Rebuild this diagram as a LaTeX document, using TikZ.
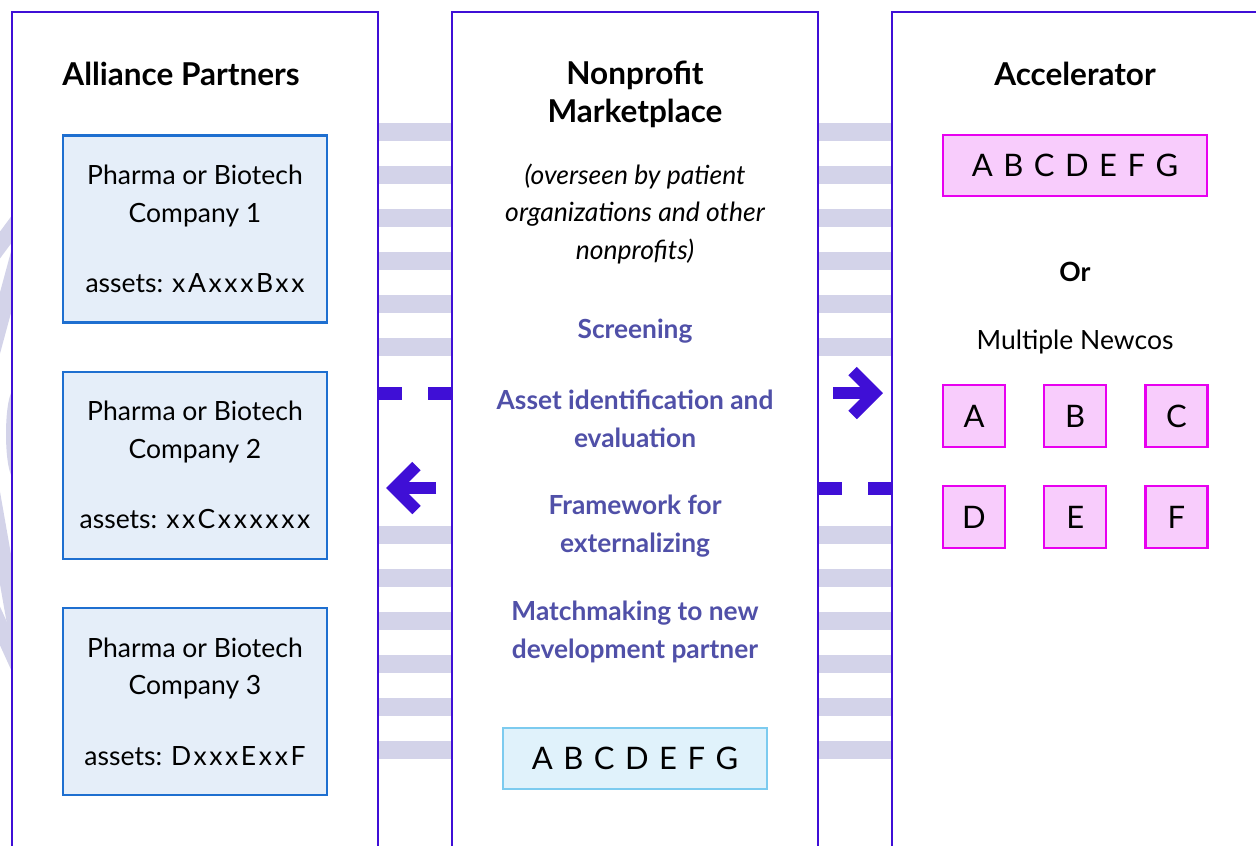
\documentclass[tikz,border=0pt]{standalone}
\usepackage{fontspec}
\setmainfont{Lato}
\usetikzlibrary{positioning}
\definecolor{frameviolet}{HTML}{3F0FD6}
\definecolor{stripegray}{HTML}{D3D3E9}
\definecolor{taskblue}{HTML}{5050A8}
\definecolor{compfill}{HTML}{E5EEF9}
\definecolor{compdraw}{HTML}{1E6FD0}
\definecolor{poolfill}{HTML}{E0F2FB}
\definecolor{pooldraw}{HTML}{7CCBEF}
\definecolor{newcofill}{HTML}{F8CCFC}
\definecolor{newcodraw}{HTML}{E800F0}
\newcommand{\widegap}{\spaceskip=10.5pt\relax}
\newcommand{\spaced}[1]{{\addfontfeatures{LetterSpace=10}#1}}

\begin{document}
\begin{tikzpicture}[
  x=1pt, y=-1pt,
  node distance=37pt,
  font=\fontsize{26.5}{37.5}\selectfont,
  every node/.style={align=center},
  panel/.style={rectangle, draw=frameviolet, line width=2.5pt, fill=white,
    anchor=north west, minimum width=366pt, minimum height=880pt,
    inner sep=0pt, outer sep=0pt},
  head/.style={font=\fontsize{31.5}{38}\selectfont\bfseries},
  comp/.style={rectangle, draw=compdraw, fill=compfill, line width=2.2pt,
    minimum width=264pt, minimum height=187pt, inner sep=0pt},
  task/.style={text=taskblue, font=\fontsize{26.3}{37.5}\selectfont\bfseries},
  pool/.style={rectangle, draw=pooldraw, fill=poolfill, line width=2.2pt,
    minimum width=264pt, minimum height=61pt,
    font=\fontsize{31}{32}\selectfont\widegap},
  newco/.style={rectangle, draw=newcodraw, fill=newcofill, line width=2.2pt,
    minimum width=62pt, minimum height=62pt, inner sep=0pt,
    font=\fontsize{31}{32}\selectfont\widegap},
  stripe/.style={fill=stripegray},
  band/.style={draw=stripegray, line width=16pt},
  link/.style={draw=frameviolet, line width=13pt, dash pattern=on 24pt off 26pt},
  fat/.style={draw=frameviolet, line width=12pt, miter limit=10}
]
\useasboundingbox (0,0) rectangle (1256,846);
\clip (0,0) rectangle (1256,846);

% faint ring behind the left panel
\draw[band] (-10,258.5) -- (30,204.5);
\draw[band] (-10,360) -- (30,212);
\fill[stripegray] (14,434) ellipse [x radius=8, y radius=44];
\draw[band] (-10,481) -- (30,709);
\draw[band] (-10,604) -- (30,692);

% bridges between the panels
\foreach \y in {132,175,218,261,304,347,535,578,621,664,707,750}{
  \fill[stripe] (378,\y-9) rectangle (452,\y+9);
  \fill[stripe] (818,\y-9) rectangle (892,\y+9);
}

\node[panel] (alliance) at (12,12) {};
\node[panel] (market) at (452,12) {};
\node[panel] (accel) at (892,12) {};

% left column
\node[head] (allhead) at (181,74) {Alliance Partners};
\node[comp] (comp1) at (195,229) {Pharma or Biotech\\Company 1\\[33pt]assets: \spaced{xAxxxBxx}};
\node[comp, below=47pt of comp1] (comp2) {Pharma or Biotech\\Company 2\\[33pt]assets: \spaced{xxCxxxxxx}};
\node[comp, below=47pt of comp2] (comp3) {Pharma or Biotech\\Company 3\\[33pt]assets: \spaced{DxxxExxF}};

% middle column
\node[head] (mkthead) at (635,94) {Nonprofit\\Marketplace};
\node[font=\fontsize{26.5}{37.5}\selectfont\itshape] (oversee) at (635,214)
  {(overseen by patient\\organizations and other\\nonprofits)};
\node[task] (screen) at (635,331) {Screening};
\node[task] (assetid) at (635,419) {Asset identification and\\evaluation};
\node[task] (frame) at (635,526) {Framework for\\externalizing};
\node[task] (match) at (635,632) {Matchmaking to new\\development partner};
\node[pool] (mktpool) at (635,758.5) {A B C D E F G};

% right column
\node[head] (acchead) at (1075,74) {Accelerator};
\node[newco, minimum width=264pt, minimum height=61pt] (accpool) at (1075,165.5) {A B C D E F G};
\node[font=\fontsize{26.5}{30}\selectfont\bfseries] (orlbl) at (1075,272) {Or};
\node (multi) at (1075,342) {Multiple Newcos};
\node[newco] (nA) at (974,416) {A};
\node[newco, right=of nA] (nB) {B};
\node[newco, right=of nB] (nC) {C};
\node[newco, below=of nA] (nD) {D};
\node[newco, right=of nD] (nE) {E};
\node[newco, right=of nE] (nF) {F};

% links and arrows
\draw[link] (alliance.east |- 0,393) -- (market.west |- 0,393);
\draw[link] (market.east |- 0,488) -- (accel.west |- 0,488);
\draw[fat] (436,488) -- (396,488);
\draw[fat] (416.5,466) -- (394.5,488) -- (416.5,510);
\draw[fat] (833,393) -- (872,393);
\draw[fat] (852.5,371) -- (874.5,393) -- (852.5,415);
\end{tikzpicture}
\end{document}
